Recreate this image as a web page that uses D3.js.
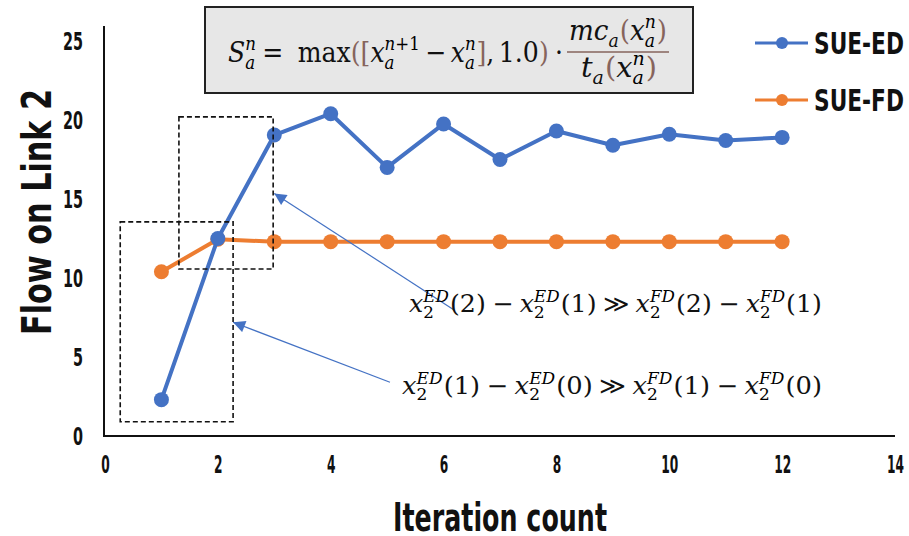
<!DOCTYPE html>
<html>
<head>
<meta charset="utf-8">
<script src="https://cdn.jsdelivr.net/npm/d3@7"></script>
<style>
  body { margin: 0; background: #fff; }
  svg { display: block; }
  .cond { font-family: "DejaVu Sans Condensed", "DejaVu Sans", sans-serif; font-weight: bold; }
  .math text { font-family: "DejaVu Serif", "Liberation Serif", serif; }
</style>
</head>
<body>
<div id="chart"></div>
<script>
// Data
const iterations = [1, 2, 3, 4, 5, 6, 7, 8, 9, 10, 11, 12];
const sueED = [2.3, 12.5, 19.05, 20.4, 17.0, 19.75, 17.5, 19.3, 18.4, 19.1, 18.7, 18.9];
const sueFD = [10.4, 12.45, 12.3, 12.3, 12.3, 12.3, 12.3, 12.3, 12.3, 12.3, 12.3, 12.3];
const xTicks = [0, 2, 4, 6, 8, 10, 12, 14];
const yTicks = [0, 5, 10, 15, 20, 25];
const seriesNames = ["SUE-ED", "SUE-FD"];

// dashed highlight boxes (data coords) and arrows (tail -> tip)
const boxes = [
  { x0: 0.27, x1: 2.27, y0: 0.9, y1: 13.55 },
  { x0: 1.31, x1: 2.98, y0: 10.57, y1: 20.2 }
];
const arrows = [
  { from: [6.2, 7.95], to: [3.0, 15.35] },
  { from: [5.05, 3.4], to: [2.27, 7.2] }
];

const W = 909, H = 536;
const blue = "#4472c4", orange = "#ed7d31", brown = "#86645c";

const svg = d3.select("#chart").append("svg").attr("width", W).attr("height", H);

const x = d3.scaleLinear().domain([0, 14]).range([105, 895]);
const y = d3.scaleLinear().domain([0, 25]).range([436, 41]);

// axis lines
svg.append("line").attr("x1", 104).attr("x2", 104).attr("y1", y(25) - 15).attr("y2", y(0))
  .attr("stroke", "#111").attr("stroke-width", 2);
svg.append("line").attr("x1", 103).attr("x2", x(14)).attr("y1", y(0)).attr("y2", y(0))
  .attr("stroke", "#111").attr("stroke-width", 2);

// tick labels through the axes
const yAxis = svg.append("g").attr("transform", "translate(83,0)")
  .call(d3.axisLeft(y).tickValues(yTicks).tickSize(0).tickPadding(0));
yAxis.select(".domain").remove();
yAxis.selectAll("text").attr("class", "cond").attr("font-size", 25).attr("fill", "#111")
  .attr("textLength", d => String(d).length * 10).attr("lengthAdjust", "spacingAndGlyphs");

const xAxis = svg.append("g").attr("transform", "translate(0,455)")
  .call(d3.axisBottom(x).tickValues(xTicks).tickSize(0).tickPadding(0));
xAxis.select(".domain").remove();
xAxis.selectAll("text").attr("class", "cond").attr("font-size", 25).attr("fill", "#111")
  .attr("textLength", d => String(d).length * 8.5).attr("lengthAdjust", "spacingAndGlyphs");

// axis titles
svg.append("text").attr("class", "cond").attr("transform", "translate(51,212) rotate(-90)")
  .attr("text-anchor", "middle").attr("font-size", 41).attr("fill", "#111")
  .attr("textLength", 246).attr("lengthAdjust", "spacingAndGlyphs").text("Flow on Link 2");
svg.append("text").attr("class", "cond").attr("x", 500).attr("y", 531)
  .attr("text-anchor", "middle").attr("font-size", 39).attr("fill", "#111")
  .attr("textLength", 214).attr("lengthAdjust", "spacingAndGlyphs").text("Iteration count");

// series
const line = d3.line().x((d, i) => x(iterations[i])).y(d => y(d));
[[sueFD, orange], [sueED, blue]].forEach(([vals, col]) => {
  svg.append("path").datum(vals).attr("d", line).attr("fill", "none")
    .attr("stroke", col).attr("stroke-width", 4).attr("stroke-linejoin", "round");
  svg.selectAll(null).data(vals).enter().append("circle")
    .attr("cx", (d, i) => x(iterations[i])).attr("cy", d => y(d)).attr("r", 7.5).attr("fill", col);
});

// dashed boxes
svg.selectAll(null).data(boxes).enter().append("rect")
  .attr("x", d => x(d.x0)).attr("y", d => y(d.y1))
  .attr("width", d => x(d.x1) - x(d.x0)).attr("height", d => y(d.y0) - y(d.y1))
  .attr("fill", "none").attr("stroke", "#111").attr("stroke-width", 1.6).attr("stroke-dasharray", "5,3");

// arrows
svg.append("defs").append("marker").attr("id", "arr").attr("viewBox", "0 0 10 10")
  .attr("refX", 10).attr("refY", 5).attr("markerWidth", 14).attr("markerHeight", 12)
  .attr("markerUnits", "userSpaceOnUse").attr("orient", "auto")
  .append("path").attr("d", "M0,0L10,5L0,10Z").attr("fill", blue);
svg.selectAll(null).data(arrows).enter().append("line")
  .attr("x1", d => x(d.from[0])).attr("y1", d => y(d.from[1]))
  .attr("x2", d => x(d.to[0])).attr("y2", d => y(d.to[1]))
  .attr("stroke", blue).attr("stroke-width", 1.2).attr("marker-end", "url(#arr)");

// legend
seriesNames.forEach((name, i) => {
  const col = i === 0 ? blue : orange;
  const ly = 43 + i * 57;
  svg.append("line").attr("x1", 755).attr("x2", 808).attr("y1", ly).attr("y2", ly)
    .attr("stroke", col).attr("stroke-width", 3);
  svg.append("circle").attr("cx", 782).attr("cy", ly).attr("r", 6).attr("fill", col);
  svg.append("text").attr("class", "cond").attr("x", 814).attr("y", ly + 11)
    .attr("font-size", 31).attr("fill", "#111")
    .attr("textLength", 90).attr("lengthAdjust", "spacingAndGlyphs").text(name);
});

// small math typesetter: lays parts out left to right, returns width
function mathRun(g, parts, size) {
  const ss = size * 0.66;
  let cx = 0;
  parts.forEach(p => {
    if (p.gap) { cx += p.gap; return; }
    if (p.stack) {
      const ws = p.stack.map((s, i) => {
        const t = g.append("text").attr("x", cx)
          .attr("y", i === 0 ? -size * 0.42 : size * 0.26).attr("font-size", ss);
        // letters italic, digits and operators upright
        s.split(/([A-Za-z]+)/).filter(c => c).forEach(c => {
          t.append("tspan").attr("font-style", /[A-Za-z]/.test(c) ? "italic" : null).text(c);
        });
        return t.node().getComputedTextLength();
      });
      cx += d3.max(ws) + 1;
      return;
    }
    const t = g.append("text").attr("x", cx).attr("y", p.sub ? size * 0.26 : 0)
      .attr("font-size", p.sub ? ss : size).attr("font-style", p.it ? "italic" : null)
      .attr("fill", p.c || "#111").text(p.t);
    cx += t.node().getComputedTextLength() + (p.sub ? 1 : 0);
  });
  return cx;
}
function placeMath(parts, size, x0, x1, base) {
  const g = svg.append("g").attr("class", "math");
  const w = mathRun(g, parts, size);
  const k = (x1 - x0) / w;
  g.attr("transform", `translate(${x0},${base}) scale(${k},1)`);
  return g;
}

// formula box
svg.append("rect").attr("x", 205).attr("y", 7).attr("width", 488).attr("height", 86)
  .attr("fill", "#e7e7e7").attr("stroke", "#222").attr("stroke-width", 2);
const xa = (sup) => [{ t: "x", it: true }, { stack: [sup, "a"] }];
placeMath([
  { t: "S", it: true }, { stack: ["n", "a"] }, { gap: 6 }, { t: "=" }, { gap: 16 },
  { t: "max" }, { t: "(", c: brown }, { t: "[", c: brown }, ...xa("n+1"), { gap: 5 }, { t: "−" }, { gap: 5 },
  ...xa("n"), { t: "]", c: brown }, { t: "," }, { gap: 5 }, { t: "1.0" }, { t: ")", c: brown }, { gap: 7 }, { t: "·" }
], 28, 228, 563, 62);
placeMath([
  { t: "mc", it: true }, { t: "a", it: true, sub: true }, { t: "(", c: brown }, ...xa("n"), { t: ")", c: brown }
], 28, 569, 667, 40);
placeMath([
  { t: "t", it: true }, { t: "a", it: true, sub: true }, { t: "(", c: brown }, ...xa("n"), { t: ")", c: brown }
], 28, 581, 657, 77);
svg.append("line").attr("x1", 567).attr("x2", 669).attr("y1", 52).attr("y2", 52)
  .attr("stroke", brown).attr("stroke-width", 1.5);

// annotation inequalities
const x2 = (sup) => [{ t: "x", it: true }, { stack: [sup, "2"] }];
placeMath([
  ...x2("ED"), { t: "(2)" }, { gap: 6 }, { t: "−" }, { gap: 6 }, ...x2("ED"), { t: "(1)" }, { gap: 6 },
  { t: "≫" }, { gap: 6 }, ...x2("FD"), { t: "(2)" }, { gap: 6 }, { t: "−" }, { gap: 6 }, ...x2("FD"), { t: "(1)" }
], 24, 409, 822, 312);
placeMath([
  ...x2("ED"), { t: "(1)" }, { gap: 6 }, { t: "−" }, { gap: 6 }, ...x2("ED"), { t: "(0)" }, { gap: 6 },
  { t: "≫" }, { gap: 6 }, ...x2("FD"), { t: "(1)" }, { gap: 6 }, { t: "−" }, { gap: 6 }, ...x2("FD"), { t: "(0)" }
], 24, 402, 822, 394);
</script>
</body>
</html>
